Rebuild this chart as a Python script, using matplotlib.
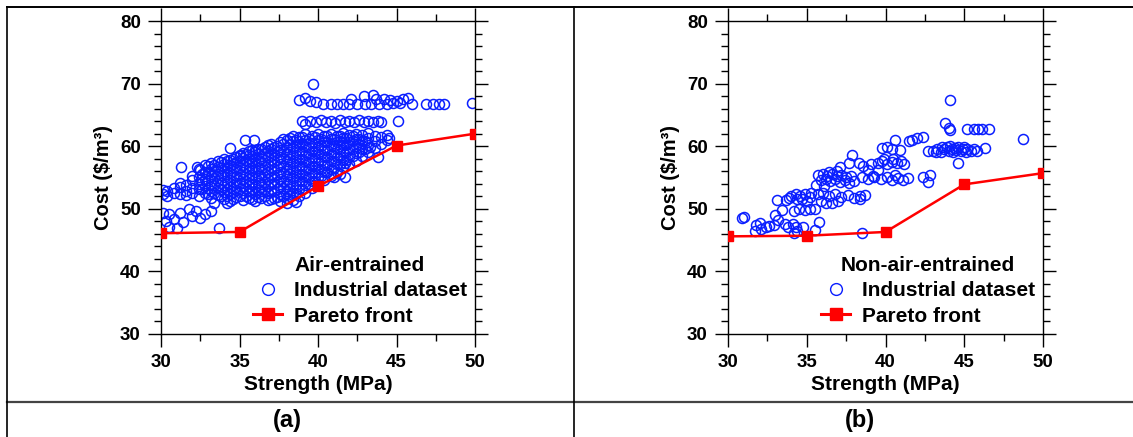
import matplotlib
matplotlib.use("Agg")
from matplotlib import pyplot as plt
from matplotlib.lines import Line2D
from matplotlib.ticker import MultipleLocator

plt.rcParams["font.family"] = ["Liberation Sans", "DejaVu Sans"]
plt.rcParams["font.weight"] = "bold"

# ---- (a) air-entrained: dense band, given as strength columns with their costs
air_band_x = [30.1, 30.4, 30.8, 31.2, 31.6, 32.0, 32.4, 32.8, 33.2, 33.6, 34.0, 34.4,
              34.8, 35.2, 35.6, 36.0, 36.4, 36.8, 37.2, 37.6, 38.0, 38.4, 38.8, 39.2,
              39.6, 40.0, 40.4, 40.8, 41.2, 41.6, 42.0, 42.4, 42.8, 43.2, 43.6, 44.0, 44.4]
air_band_y = [
    [52.4, 53.0], [52.8, 52.1], [52.6, 53.3], [52.3, 53.5, 54.2], [52.9, 53.8, 52.2],
    [52.5, 53.4, 54.6, 55.3], [52.1, 53.1, 54.0, 55.0, 56.4],
    [52.6, 53.7, 54.8, 55.9, 57.0], [51.8, 52.9, 54.0, 55.2, 56.3, 57.3],
    [52.2, 53.3, 54.4, 55.6, 56.7, 57.6], [51.6, 52.7, 53.8, 55.0, 56.1, 57.2, 58.0],
    [51.3, 52.4, 53.5, 54.6, 55.7, 56.8, 57.8], [51.9, 53.0, 54.2, 55.3, 56.4, 57.5, 58.3],
    [51.4, 52.5, 53.6, 54.8, 55.9, 57.0, 58.1, 58.9],
    [51.8, 52.9, 54.1, 55.2, 56.4, 57.5, 58.6, 59.3],
    [51.3, 52.4, 53.5, 54.7, 55.8, 56.9, 58.0, 59.0],
    [51.7, 52.8, 54.0, 55.1, 56.3, 57.4, 58.5, 59.6],
    [51.4, 52.5, 53.6, 54.8, 55.9, 57.0, 58.2, 59.3, 60.2],
    [51.8, 52.9, 54.1, 55.3, 56.4, 57.6, 58.7, 59.8],
    [51.3, 52.4, 53.6, 54.7, 55.9, 57.1, 58.3, 59.4, 60.6],
    [51.7, 52.9, 54.0, 55.2, 56.4, 57.6, 58.8, 59.9, 61.0],
    [51.4, 52.5, 53.7, 54.9, 56.1, 57.3, 58.5, 59.7, 60.8, 61.6],
    [52.0, 53.2, 54.4, 55.6, 56.8, 58.0, 59.2, 60.4, 61.5],
    [52.6, 53.8, 55.0, 56.2, 57.4, 58.6, 59.8, 61.0, 61.9],
    [53.3, 54.5, 55.7, 56.9, 58.1, 59.3, 60.5, 61.6],
    [53.9, 55.1, 56.3, 57.5, 58.7, 59.9, 61.0, 61.9],
    [54.6, 55.8, 57.0, 58.2, 59.4, 60.6, 61.6],
    [55.2, 56.4, 57.6, 58.8, 60.0, 61.2, 62.0],
    [55.9, 57.1, 58.3, 59.5, 60.7, 61.7],
    [56.6, 57.8, 59.0, 60.2, 61.3, 62.1],
    [57.1, 58.3, 59.5, 60.7, 61.8],
    [57.7, 58.9, 60.1, 61.2, 62.0],
    [58.4, 59.6, 60.8, 61.8],
    [59.0, 60.2, 61.3, 62.1],
    [59.7, 60.8, 61.6],
    [60.4, 61.4],
    [61.0, 61.8],
]

# second, staggered set of columns filling the core of the band
air_core_x = [32.6, 33.0, 33.4, 33.8, 34.2, 34.6, 35.0, 35.4, 35.8, 36.2, 36.6, 37.0,
              37.4, 37.8, 38.2, 38.6, 39.0, 39.4, 39.8, 40.2, 40.6, 41.0, 41.4, 41.8,
              42.2, 42.6, 43.0]
air_core_y = [
    [53.1, 54.3, 55.5],
    [52.3, 53.4, 54.6, 55.7, 56.8],
    [52.6, 53.8, 54.9, 56.0, 57.0],
    [52.0, 53.1, 54.2, 55.4, 56.5, 57.5],
    [52.1, 53.2, 54.3, 55.5, 56.6, 57.6],
    [51.6, 52.7, 53.8, 55.0, 56.1, 57.1, 58.0],
    [52.0, 53.1, 54.2, 55.4, 56.5, 57.6, 58.5],
    [52.1, 53.3, 54.4, 55.6, 56.7, 57.8, 58.8],
    [51.6, 52.7, 53.9, 55.0, 56.2, 57.3, 58.5, 59.4],
    [51.9, 53.0, 54.2, 55.3, 56.5, 57.6, 58.8, 59.6],
    [52.0, 53.2, 54.3, 55.5, 56.7, 57.8, 58.9, 59.9],
    [51.6, 52.7, 53.9, 55.0, 56.2, 57.3, 58.4, 59.5, 60.3],
    [51.9, 53.1, 54.3, 55.4, 56.6, 57.8, 59.0, 60.1],
    [52.1, 53.3, 54.5, 55.7, 56.9, 58.1, 59.3, 60.4, 61.2],
    [52.0, 53.1, 54.3, 55.5, 56.7, 57.9, 59.1, 60.3, 61.3],
    [52.6, 53.8, 55.0, 56.2, 57.4, 58.6, 59.8, 61.0],
    [53.2, 54.4, 55.6, 56.8, 58.0, 59.2, 60.4, 61.5],
    [53.9, 55.1, 56.3, 57.5, 58.7, 59.9, 61.1],
    [54.5, 55.7, 56.9, 58.1, 59.3, 60.5, 61.5],
    [55.2, 56.4, 57.6, 58.8, 60.0, 61.2],
    [55.8, 57.0, 58.2, 59.4, 60.6, 61.6],
    [56.5, 57.7, 58.9, 60.1, 61.2],
    [57.2, 58.4, 59.6, 60.8, 61.6],
    [57.8, 59.0, 60.2, 61.3],
    [58.4, 59.6, 60.8, 61.6],
    [59.0, 60.2, 61.2],
    [59.6, 60.8],
]

# scattered points outside the band
air_x = [30.1, 30.5, 30.3, 30.8, 30.5, 31.0, 31.4, 31.2, 31.8, 32.2, 32.5, 32.8, 33.2, 33.7, 32.0,
         31.3, 32.3, 32.5, 34.4, 35.35, 35.9, 36.0, 35.0,
         34.2, 33.4, 38.0, 38.6,
         41.7, 41.7, 43.8, 43.3, 44.5, 41.0, 41.4,
         39.7, 45.1, 49.8,
         38.8, 39.2, 39.5, 39.9, 40.3, 40.8, 41.2, 41.6, 42.0, 42.1, 42.5, 42.9, 43.0, 43.4,
         43.5, 43.7, 43.9, 44.2, 44.4, 44.6, 44.8, 45.0, 45.4, 45.75, 45.97, 45.2, 46.9, 47.3,
         47.7, 48.0,
         39.0, 39.2, 39.5, 39.9, 40.2, 40.5, 40.8, 41.1, 41.4, 41.7, 42.0, 42.3, 42.6, 42.9,
         43.2, 43.5, 43.8, 44.0]
air_y = [49.4, 49.2, 48.1, 48.3, 47.1, 47.0, 47.9, 49.3, 49.9, 49.6, 48.5, 49.1, 49.7, 46.9, 48.9,
         56.7, 56.7, 56.2, 59.7, 61.0, 61.0, 59.4, 58.6,
         50.9, 51.0, 51.0, 51.1,
         57.3, 55.1, 58.2, 59.9, 61.3, 55.0, 55.5,
         70.0, 64.1, 66.9,
         67.4, 67.7, 67.3, 67.0, 66.7, 66.7, 66.7, 66.7, 66.7, 67.5, 66.7, 68.0, 66.8, 66.7,
         68.2, 67.5, 66.8, 67.5, 66.8, 67.4, 66.9, 67.3, 67.5, 67.7, 66.7, 66.9, 66.8, 66.7,
         66.7, 66.7,
         64.0, 63.6, 64.1, 63.8, 64.2, 63.9, 64.1, 63.7, 64.2, 63.9, 64.1, 63.8, 64.2, 63.9,
         64.1, 63.8, 64.1, 63.9]

air_pareto_x = [30, 35, 40, 45, 50]
air_pareto_y = [46.1, 46.3, 53.6, 60.1, 62.0]

# ---- (b) non-air-entrained
nonair_x = [30.9, 31.0, 31.8, 32.0, 32.4, 32.1, 31.7, 32.6, 33.0, 33.2, 32.9, 33.1, 33.7, 33.4,
            33.6, 34.1, 34.3, 34.4, 34.2, 33.8, 34.75, 35.5, 35.8,
            34.0, 34.3, 34.6, 34.9, 35.2, 34.7, 35.0, 34.4, 33.9,
            34.5, 34.9, 35.2, 35.5, 34.2,
            35.7, 36.0, 36.3, 36.6, 36.9, 37.2, 37.5, 37.8,
            35.9, 36.2, 36.5, 36.8, 37.1, 37.4, 37.7, 38.0,
            36.4, 36.9, 37.1, 37.7, 37.9, 35.6, 36.1,
            35.3, 35.7, 36.0, 36.4, 36.8, 37.2, 37.6, 38.0, 38.4, 38.7, 37.0, 36.6, 36.2, 35.9, 38.4,
            38.5, 38.3, 38.6, 39.1, 38.9, 39.5,
            39.8, 40.1, 40.4, 40.9, 40.6,
            39.5, 39.8, 40.1, 40.4, 40.7, 41.0, 41.2, 39.9, 40.5,
            38.5, 38.9, 39.3, 39.7, 40.1, 40.4, 40.8, 41.1, 41.4, 39.2, 40.6,
            42.4, 42.8, 42.7, 41.7, 42.0, 42.4, 41.5, 42.7,
            43.0, 43.3, 43.5, 43.7, 43.9, 44.0, 44.2, 44.3, 44.5, 44.6, 44.8, 44.9, 45.1, 45.2,
            45.4, 45.6, 45.8, 44.1, 44.4, 43.6, 45.0, 43.2,
            46.3, 44.6, 44.1, 43.8, 44.0, 44.1, 45.2, 45.6, 45.9, 46.1, 46.6, 48.7]
nonair_y = [48.6, 48.7, 47.4, 47.7, 47.1, 46.7, 46.4, 47.3, 49.0, 48.2, 47.4, 51.4, 51.4, 49.8,
            47.6, 47.6, 47.1, 46.5, 46.2, 47.1, 47.1, 46.6, 47.9,
            52.0, 52.3, 52.1, 52.3, 51.9, 51.5, 51.3, 51.6, 51.8,
            50.0, 49.8, 50.0, 50.0, 49.7,
            55.4, 55.6, 55.3, 55.5, 55.2, 55.4, 55.1, 55.3,
            54.6, 54.8, 54.4, 54.7, 54.3, 54.6, 54.2, 54.5,
            55.9, 56.0, 56.7, 57.3, 58.6, 53.8, 53.7,
            52.5, 52.3, 52.6, 52.0, 52.3, 51.9, 52.2, 51.8, 52.0, 52.2, 51.3, 51.0, 50.9, 51.2, 51.5,
            46.1, 57.3, 56.9, 57.2, 56.2, 56.2,
            59.7, 59.8, 59.6, 59.4, 61.0,
            57.3, 57.6, 57.2, 57.5, 57.3, 57.6, 57.2, 57.9, 57.9,
            55.0, 54.7, 55.0, 54.8, 55.1, 54.6, 54.9, 54.6, 54.9, 55.3, 55.4,
            55.1, 55.4, 54.3, 61.0, 61.3, 61.5, 60.8, 59.2,
            59.3, 59.6, 59.1, 59.5, 59.8, 59.2, 59.6, 59.0, 59.4, 59.8, 59.2, 59.5, 59.0, 59.6,
            59.3, 59.5, 59.2, 60.0, 59.7, 59.9, 59.9, 59.1,
            59.7, 57.3, 67.4, 63.7, 62.9, 62.6, 62.7, 62.8, 62.7, 62.8, 62.7, 61.1]

nonair_pareto_x = [30, 35, 40, 45, 50]
nonair_pareto_y = [45.6, 45.7, 46.3, 53.9, 55.7]

blue = "#0a1eff"
red = "#ff0000"


def draw_panel(ax, sx, sy, px, py, title):
    ax.plot(sx, sy, linestyle="none", marker="o", ms=7.2, mfc="none", mec=blue, mew=1.1, zorder=2)
    ax.plot(px, py, color=red, lw=1.8, marker="s", ms=7, zorder=3)
    ax.set_xlim(30, 50)
    ax.set_ylim(30, 80)
    ax.xaxis.set_major_locator(MultipleLocator(5))
    ax.xaxis.set_minor_locator(MultipleLocator(2.5))
    ax.yaxis.set_major_locator(MultipleLocator(10))
    ax.yaxis.set_minor_locator(MultipleLocator(2))
    ax.tick_params(which="both", direction="out", top=True, right=True, width=1.0, labelsize=13.5)
    ax.tick_params(which="major", length=9.5, pad=5)
    ax.tick_params(which="minor", length=4.7)
    for s in ax.spines.values():
        s.set_linewidth(1.0)
    ax.set_xlabel("Strength (MPa)", fontsize=15, fontweight="bold", labelpad=3)
    ax.set_ylabel(r"Cost (\$/m³)", fontsize=14.5, fontweight="bold", labelpad=5)
    handles = [
        Line2D([], [], linestyle="none", marker="o", ms=8.5, mfc="none", mec=blue, mew=1.0),
        Line2D([], [], color=red, lw=2.2, marker="s", ms=8),
    ]
    leg = ax.legend(handles, ["Industrial dataset", "Pareto front"], title=title,
                    loc="lower right", bbox_to_anchor=(1.0, 0.0), frameon=False,
                    fontsize=15, title_fontproperties={"size": 15, "weight": "bold"},
                    handlelength=1.4, handletextpad=0.55, labelspacing=0.3,
                    borderpad=0.25, borderaxespad=0.15, numpoints=1)
    for t in leg.get_texts():
        t.set_fontweight("bold")


fig = plt.figure(figsize=(11.33, 4.37), dpi=100)
W, H = 1133, 437

ax1 = fig.add_axes([161 / W, (H - 334) / H, 314 / W, 313 / H])
band_x = [x for x, ys in zip(air_band_x + air_core_x, air_band_y + air_core_y) for _ in ys]
band_y = [y for ys in air_band_y + air_core_y for y in ys]
draw_panel(ax1, band_x + air_x, band_y + air_y, air_pareto_x, air_pareto_y, "Air-entrained")

ax2 = fig.add_axes([728 / W, (H - 334) / H, 315 / W, 313 / H])
draw_panel(ax2, nonair_x, nonair_y, nonair_pareto_x, nonair_pareto_y, "Non-air-entrained")


# table frame around the panels
def hline(y, x0, x1, lw, c="black"):
    fig.add_artist(Line2D([x0 / W, x1 / W], [1 - y / H, 1 - y / H], lw=lw, color=c))


def vline(x, y0, y1, lw, c="black"):
    fig.add_artist(Line2D([x / W, x / W], [1 - y0 / H, 1 - y1 / H], lw=lw, color=c))


hline(7, 7, W, 1.4)
hline(401.5, 7, W, 1.6, "#444444")
vline(7, 7, H, 1.2)
vline(574, 7, H, 1.2)

fig.text(287 / W, 1 - 420 / H, "(a)", ha="center", va="center", fontsize=17, fontweight="bold")
fig.text(860 / W, 1 - 420 / H, "(b)", ha="center", va="center", fontsize=17, fontweight="bold")

fig.savefig("out.png", dpi=100)
